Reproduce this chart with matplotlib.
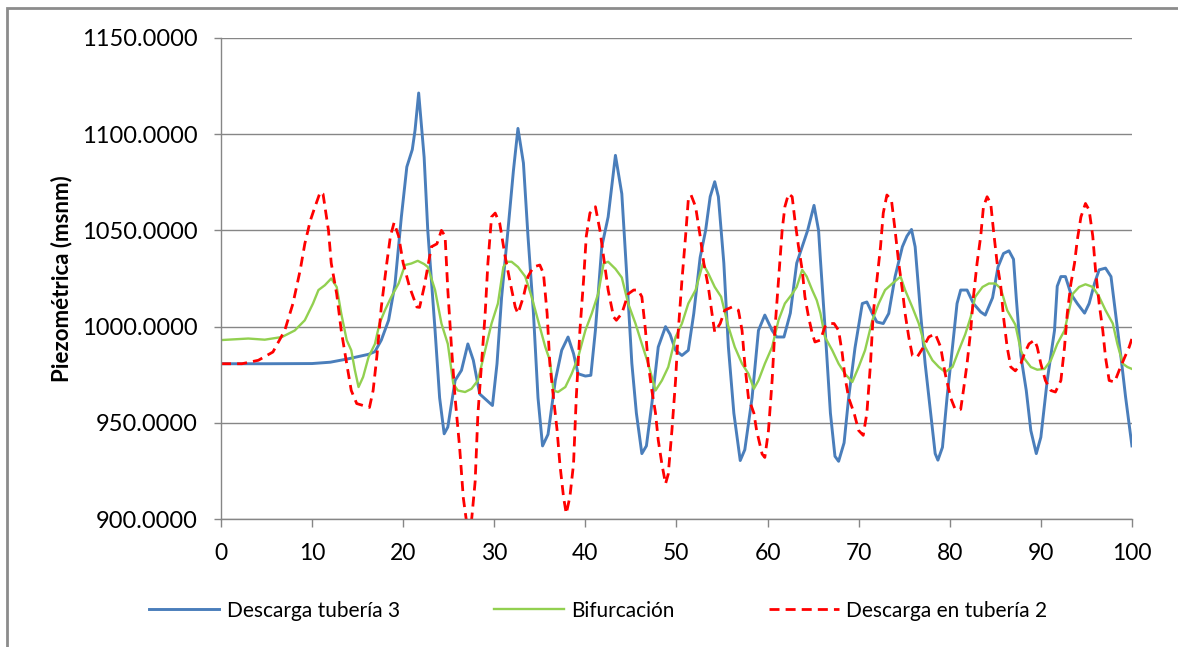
import matplotlib
matplotlib.use("Agg")
import matplotlib.pyplot as plt
from matplotlib.patches import Rectangle

plt.rcParams['font.family'] = ['Lato', 'DejaVu Sans']

# Descarga tubería 3
x_t3 = [0, 5, 10, 12, 14, 16.2, 16.9, 17.6, 18.4, 19.1, 19.8, 20.4, 21.0, 21.3, 21.7, 22.3, 22.7,
        23.5, 24.0, 24.5, 24.9, 25.7, 26.4, 27.1, 27.7, 28.4, 29.2, 29.8, 30.3, 30.8, 31.5, 32.1,
        32.6, 33.2, 33.7, 34.3, 34.8, 35.3, 35.9, 36.7, 37.4, 38.1, 38.7, 39.2, 40.0, 40.6, 41.1,
        41.8, 42.5, 43.3, 44.0, 44.5, 45.1, 45.6, 46.2, 46.7, 47.3, 48.0, 48.8, 49.3, 49.9, 50.6,
        51.3, 51.9, 52.6, 53.2, 53.7, 54.2, 54.6, 55.2, 55.7, 56.3, 57.0, 57.5, 58.3, 59.0, 59.7,
        60.5, 61.0, 61.8, 62.5, 63.2, 63.8, 64.4, 65.1, 65.6, 65.8, 66.3, 66.9, 67.4, 67.8, 68.4,
        68.9, 69.6, 70.4, 70.9, 71.5, 72.0, 72.7, 73.3, 74.0, 74.8, 75.3, 75.8, 76.2, 76.8, 77.3,
        77.9, 78.4, 78.7, 79.2, 79.7, 80.3, 80.8, 81.2, 81.9, 82.6, 83.4, 83.9, 84.7, 85.3, 85.9,
        86.5, 87.0, 87.3, 87.8, 88.4, 88.9, 89.5, 90.0, 90.7, 91.5, 91.8, 92.2, 92.7, 93.3, 94.0,
        94.8, 95.3, 95.9, 96.4, 97.1, 97.7, 98.2, 98.8, 99.3, 100]
y_t3 = [980.7, 980.7, 980.8, 981.5, 983.3, 985.6, 987, 993, 1003.3, 1022, 1057, 1083, 1092, 1102,
        1121.4, 1088, 1050, 998, 963, 944.3, 947.8, 972, 977.3, 991, 982.5, 965, 961.6, 959, 980.7,
        1015, 1050, 1081, 1103, 1085, 1047, 1007, 963, 938, 944, 972, 987.7, 994.6, 986, 975.5,
        974.3, 974.7, 998, 1041.5, 1057, 1089, 1069, 1030, 981, 955, 934, 938, 960, 989.4, 1000,
        996, 987.7, 985, 987.7, 1006.8, 1036, 1050, 1067.5, 1075.3, 1067.5, 1033, 989.4, 955,
        930.4, 936, 963, 998, 1006, 998, 994.6, 994.6, 1007, 1033, 1041.5, 1050, 1063, 1050, 1035,
        1000, 955, 932.6, 930, 939.6, 963, 989, 1012, 1012.8, 1006.8, 1002.4, 1001.6, 1006.8,
        1026, 1041.5, 1047, 1050.5, 1041.5, 1006.8, 980.7, 955, 934, 930.6, 937.3, 963, 989.4,
        1012, 1019, 1019, 1012, 1007.6, 1006, 1015, 1031, 1038, 1039.4, 1035, 1015, 985, 966.8,
        946, 934, 942.5, 972, 998, 1021, 1026, 1026, 1017, 1012, 1007, 1012, 1022.6, 1029.5,
        1030.4, 1026, 1007, 984, 963.5, 938]

# Bifurcación
x_bif = [0, 3.0, 4.8, 6.7, 8.1, 9.2, 10.1, 10.7, 11.4, 12.1, 12.7, 13.2, 13.8, 14.3, 14.7, 15.1,
         15.6, 16.2, 16.9, 17.4, 18.0, 18.7, 19.5, 20.2, 20.9, 21.6, 22.3, 22.7, 23.5, 24.2, 24.9,
         25.5, 26.0, 26.8, 27.5, 28.2, 29.0, 29.7, 30.4, 31.0, 31.4, 31.9, 32.6, 33.4, 34.1, 34.8,
         35.6, 36.1, 36.5, 37.0, 37.8, 38.5, 39.2, 40.0, 40.7, 41.4, 42.0, 42.5, 43.3, 44.0, 44.7,
         45.5, 46.2, 46.9, 47.7, 48.4, 49.1, 49.9, 50.6, 51.3, 52.1, 52.9, 53.5, 54.2, 54.9, 55.7,
         56.4, 57.2, 57.9, 58.5, 59.0, 59.7, 60.5, 61.2, 61.9, 62.7, 63.2, 63.8, 64.3, 64.9, 65.4,
         65.8, 66.3, 67.1, 67.8, 68.5, 69.3, 70.0, 70.7, 71.5, 72.2, 72.9, 73.7, 74.6, 75.1, 75.9,
         76.6, 77.3, 78.1, 78.8, 79.5, 80.3, 81.0, 81.7, 82.3, 82.8, 83.6, 84.3, 85.0, 85.6, 86.3,
         87.2, 87.8, 88.2, 88.9, 89.6, 90.4, 91.1, 91.8, 92.6, 93.1, 93.5, 94.2, 94.9, 95.7, 96.4,
         97.1, 97.9, 98.4, 99.0, 99.5, 100]
y_bif = [993, 993.8, 993.2, 994.6, 998, 1003.3, 1012, 1019, 1021.5, 1025, 1020.6, 1006.8, 993,
         987.7, 977.3, 968.6, 973.8, 984.2, 991, 1001.6, 1008.5, 1015.5, 1022.4, 1032, 1032.8,
         1034.2, 1032.5, 1031, 1019, 1001.6, 991, 970.3, 966.8, 966, 967.7, 972, 987.7, 1001.6,
         1012, 1031, 1033.7, 1033.7, 1031, 1026, 1015.5, 1003.3, 989.4, 982.5, 966.8, 966, 968.6,
         975.5, 984, 998, 1006.8, 1017, 1032.8, 1033.7, 1030, 1025.5, 1012, 1001.6, 991, 980.7,
         966.8, 972, 979, 994.6, 1001.6, 1012, 1019, 1032.8, 1027.6, 1020.6, 1015.5, 1000, 989.4,
         980.7, 975.5, 967.7, 972, 980.7, 989.4, 1003.3, 1012, 1017, 1020.6, 1029.5, 1026, 1019,
         1013.7, 1007, 994.6, 987.7, 980.7, 975.5, 971.2, 979, 987.7, 1003.3, 1012, 1019, 1022.4,
         1026, 1019, 1010, 1001.6, 989.4, 982.5, 979, 976.4, 979, 987.7, 996, 1005, 1015.5,
         1020.6, 1022.4, 1022.4, 1019.8, 1008.5, 1001, 987.7, 983.3, 979, 977.6, 978, 982.5, 991,
         998, 1008.5, 1017, 1020.6, 1022, 1020.6, 1015.5, 1008.5, 1001.6, 991, 980.7, 979, 978]

# Descarga en tubería 2
x_t2 = [0, 2.3, 4.1, 5.7, 7.0, 7.9, 8.7, 9.2, 9.8, 10.3, 10.9, 11.2, 11.8, 12.1, 12.7, 13.2, 13.8,
        14.3, 14.9, 15.6, 16.3, 16.7, 17.1, 17.6, 18.2, 18.6, 19.0, 19.5, 20.0, 20.7, 21.5, 21.8,
        22.3, 23.1, 23.7, 24.2, 24.6, 24.9, 25.3, 25.7, 26.2, 26.6, 27.0, 27.5, 27.9, 28.2, 28.6,
        29.0, 29.3, 29.7, 30.1, 30.6, 31.2, 31.7, 32.3, 32.6, 33.2, 33.7, 34.3, 35.0, 35.4, 35.8,
        36.1, 36.5, 36.9, 37.2, 37.6, 37.9, 38.3, 38.7, 39.0, 39.4, 39.8, 40.1, 40.5, 41.1, 41.6,
        42.0, 42.5, 43.1, 43.4, 44.0, 44.7, 45.3, 45.8, 46.2, 46.6, 46.9, 47.3, 47.7, 48.0, 48.4,
        48.8, 49.1, 49.5, 49.9, 50.2, 50.6, 51.0, 51.3, 51.6, 52.1, 52.6, 53.0, 53.5, 53.9, 54.2,
        54.8, 55.3, 56.1, 56.8, 57.2, 57.5, 57.9, 58.5, 58.8, 59.4, 59.7, 60.1, 60.5, 60.8, 61.2,
        61.6, 61.9, 62.3, 62.7, 63.0, 63.4, 63.8, 64.1, 64.5, 64.9, 65.2, 65.8, 66.3, 66.7, 67.3,
        67.8, 68.2, 68.5, 68.9, 69.5, 70.0, 70.5, 70.9, 71.3, 71.6, 72.0, 72.4, 72.7, 73.1, 73.6,
        74.0, 74.4, 74.8, 75.1, 75.5, 75.9, 76.4, 77.0, 77.7, 78.4, 79.0, 79.5, 80.1, 80.6, 81.2,
        81.5, 81.9, 82.3, 82.6, 83.0, 83.4, 83.7, 84.1, 84.5, 84.8, 85.2, 85.6, 85.9, 86.3, 86.7,
        87.2, 87.8, 88.2, 88.7, 89.3, 89.6, 90.0, 90.5, 91.1, 91.6, 92.2, 92.6, 92.9, 93.3, 93.7,
        94.0, 94.4, 94.9, 95.3, 95.7, 96.0, 96.4, 96.8, 97.1, 97.5, 98.1, 98.6, 99.2, 99.7, 100]
y_t2 = [980.7, 980.7, 982.5, 986.8, 998, 1012, 1029.5, 1043, 1055, 1062, 1070, 1069, 1050, 1033,
        1017, 998, 980.7, 966.8, 960, 959, 958, 966.8, 984, 1010.2, 1033, 1047, 1054, 1047, 1033,
        1020.6, 1010.2, 1010, 1020.6, 1041.5, 1043, 1050, 1047, 1019, 989.4, 963, 937, 911, 897,
        899, 919.5, 954.3, 980.7, 1006.8, 1033, 1057, 1059, 1053.6, 1036.3, 1024, 1010.2, 1006.8,
        1015.5, 1026, 1031, 1032, 1027.6, 1006.8, 980.7, 963, 946, 928.6, 911.5, 902.8, 911.5,
        928.6, 963, 998, 1024, 1047, 1059, 1062.3, 1050, 1036.3, 1019, 1005, 1003.3, 1006.8, 1017,
        1019, 1019, 1015.5, 998, 980.7, 966.8, 955, 941, 928.6, 918.3, 923.4, 946, 972, 998, 1024,
        1047, 1066, 1068.4, 1062.3, 1047, 1033, 1020.6, 1006.8, 997.2, 1001.6, 1008.5, 1010.2,
        1008.5, 998, 980.7, 963, 955, 946, 933.8, 932, 946, 972, 998, 1024, 1050, 1062.3, 1069,
        1067.5, 1055.4, 1041.5, 1029.5, 1015.5, 1005, 996.5, 992, 993, 1000, 1001.6, 1001.6, 998,
        986, 973.8, 963, 955, 946, 943.5, 955, 980.7, 1006.8, 1024, 1041.5, 1059, 1068.4, 1065.8,
        1050, 1033, 1019, 1006.8, 994.6, 985, 984, 988.5, 994.6, 996.3, 989.4, 975.5, 963, 957,
        957, 966.8, 980.7, 998, 1015.5, 1033, 1047, 1062.3, 1067.5, 1064, 1050, 1033, 1021, 1005,
        989.4, 979, 977, 980.7, 986, 991, 993, 989.4, 980.7, 972, 966.8, 966, 972, 989.4, 1006.8,
        1022.4, 1033, 1045, 1057, 1064, 1060.6, 1047, 1029.5, 1012, 998, 984, 972, 971.2, 977.3,
        984, 989.4, 993.8]

y_ticks = [900, 950, 1000, 1050, 1100, 1150]
x_ticks = [0, 10, 20, 30, 40, 50, 60, 70, 80, 90, 100]

fig = plt.figure(figsize=(11.78, 6.47), dpi=100)
ax = fig.add_axes([0.1876, 0.1978, 0.7733, 0.7435])

ax.plot(x_t3, y_t3, color='#4a7ebb', lw=2.1, label='Descarga tubería 3')
ax.plot(x_bif, y_bif, color='#92d050', lw=1.7, label='Bifurcación')
ax.plot(x_t2, y_t2, color='#ff0000', lw=2.0, ls=(0, (3.6, 2.2)), label='Descarga en tubería 2')

ax.set_xlim(0, 100)
ax.set_ylim(900, 1150)
ax.set_xticks(x_ticks)
ax.set_yticks(y_ticks)
ax.set_yticklabels([f'{v:.4f}' for v in y_ticks])
ax.grid(axis='y', color='#868686', lw=1)
ax.set_axisbelow(True)
for s in ['top', 'right']:
    ax.spines[s].set_visible(False)
for s in ['left', 'bottom']:
    ax.spines[s].set_color('#868686')
    ax.spines[s].set_linewidth(1)
ax.tick_params(axis='both', colors='#868686', labelcolor='black', width=1)
ax.tick_params(axis='x', length=6, pad=11, labelsize=16.5)
ax.tick_params(axis='y', length=5, pad=12, labelsize=17)

ax.set_ylabel('Piezométrica (msnm)', fontsize=16, fontweight='bold')
ax.yaxis.set_label_coords(-0.163, 0.5)

fig.legend(loc='center', bbox_to_anchor=(0.508, 0.056), ncol=3, frameon=False,
           fontsize=15, handlelength=3.35, handletextpad=0.38, columnspacing=4.5)

# outer chart border (only left/top visible in the crop)
fig.patches.append(Rectangle((7 / 1178, -0.2), 2, 0.2 + 639 / 647, transform=fig.transFigure,
                             fill=False, edgecolor='#8c8c8c', lw=2))

fig.savefig('out.png', dpi=100)
